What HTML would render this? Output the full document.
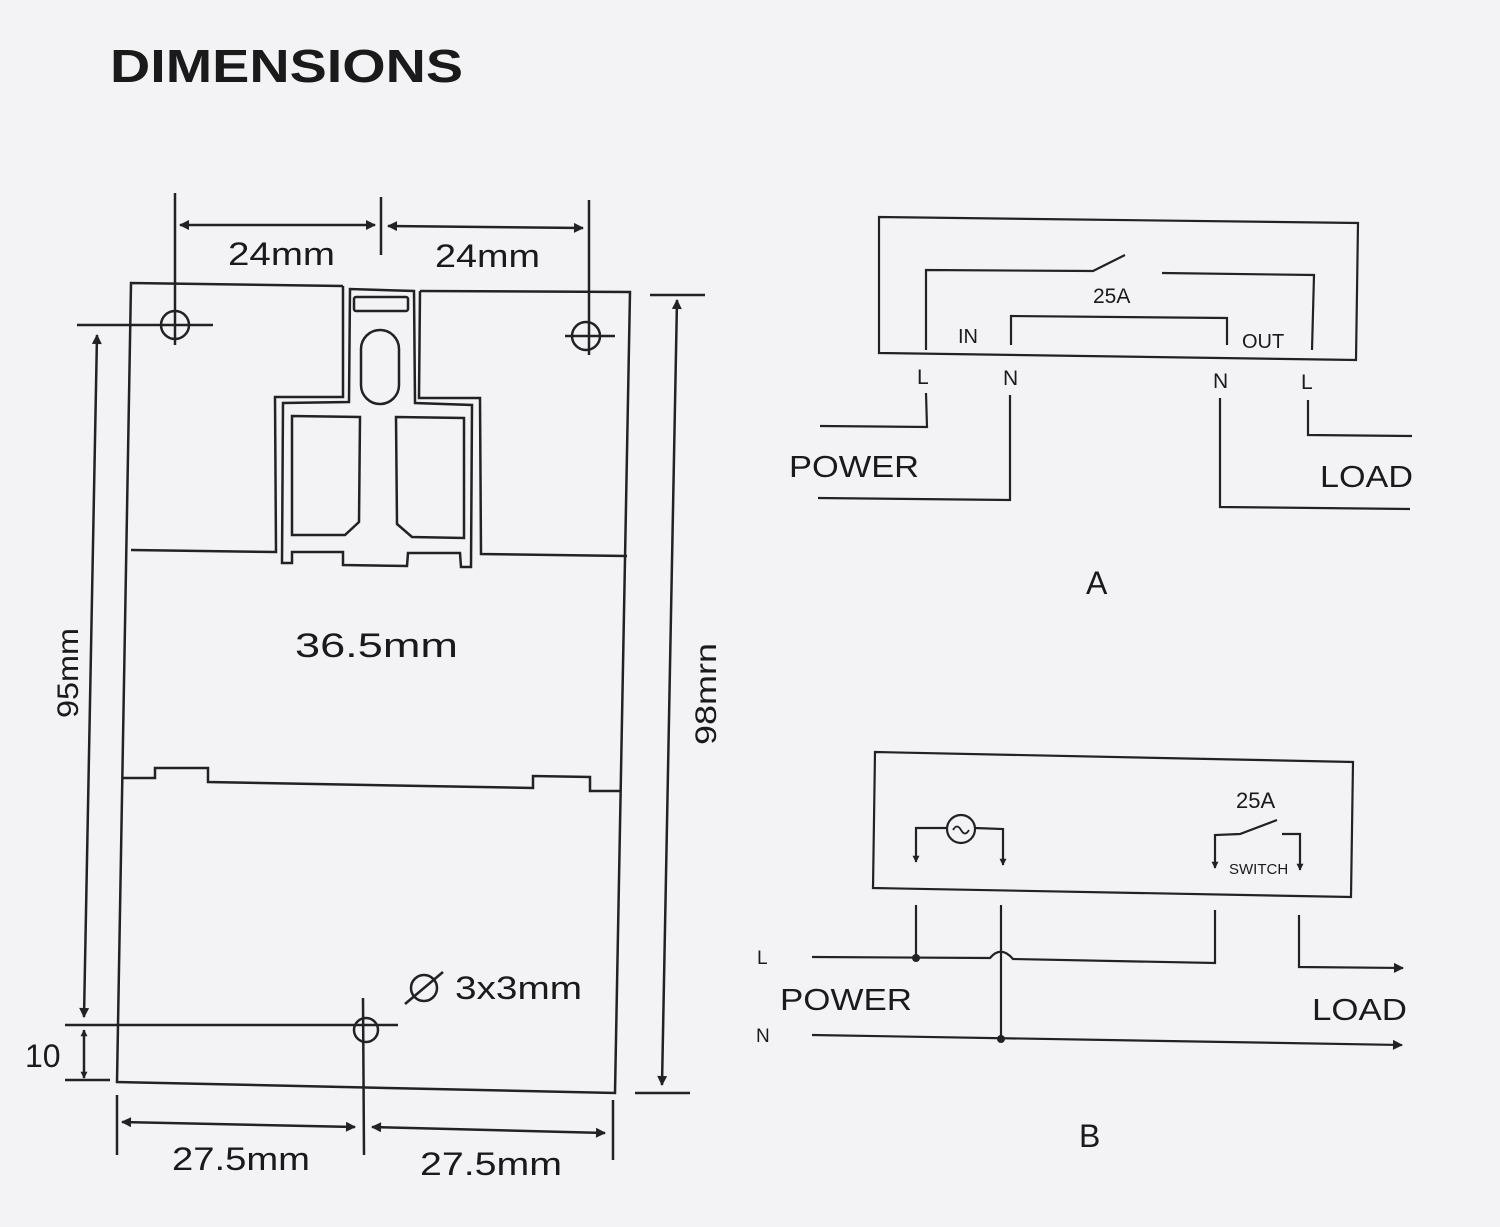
<!DOCTYPE html>
<html><head><meta charset="utf-8"><style>
html,body{margin:0;padding:0;background:#f3f2f5;}
svg{display:block}
text{font-family:"Liberation Sans",sans-serif;fill:#1a1a1a}
</style></head><body>
<svg width="1500" height="1227" viewBox="0 0 1500 1227" xmlns="http://www.w3.org/2000/svg">
<defs>
<marker id="ab" viewBox="0 0 10 10" refX="9" refY="5" markerWidth="18" markerHeight="10" orient="auto-start-reverse" markerUnits="userSpaceOnUse">
<path d="M0,0 L10,5 L0,10 z" fill="#222"/></marker>
<marker id="as" viewBox="0 0 10 10" refX="9" refY="5" markerWidth="10" markerHeight="7" orient="auto-start-reverse" markerUnits="userSpaceOnUse">
<path d="M0,0 L10,5 L0,10 z" fill="#222"/></marker>
</defs>
<rect width="1500" height="1227" fill="#f3f2f5"/>
<text x="110" y="82" font-size="46" font-weight="bold" textLength="353" lengthAdjust="spacingAndGlyphs">DIMENSIONS</text>

<g fill="none" stroke="#222" stroke-width="2.5">
<path d="M343,286 L131,283 L117,1082 L615,1093 L630,292 L420,291"/>
<path d="M343,286 L343,397 L275,397 L276,552 L131,550"/>
<path d="M350,289 L349,402 L283,403 L282,563 L292,563 L292,552 L343,552 L343,565 L407,566 L408,553 L460,553 L461,567 L471,567 L472,405 L415,403 L414,291 Z"/>
<path d="M420,291 L419,398 L480,398 L481,554 L627,556"/>
<rect x="354" y="297" width="54" height="14" rx="2"/>
<rect x="361" y="330" width="38" height="74" rx="19"/>
<path d="M292,416 L360,417 L359,522 L345,535 L292,535 Z"/>
<path d="M396,417 L464,418 L464,538 L412,537 L397,524 Z"/>
<path d="M122,778 L155,778 L155,768 L208,768 L208,782 L533,788 L533,776 L590,777 L590,791 L620,791"/>
<circle cx="175" cy="325" r="14"/>
<line x1="77" y1="325" x2="213" y2="325"/>
<line x1="175" y1="193" x2="175" y2="345"/>
<circle cx="586" cy="336" r="14"/>
<line x1="565" y1="336" x2="615" y2="336"/>
<line x1="589" y1="200" x2="589" y2="355"/>
<circle cx="366" cy="1030" r="12"/>
<line x1="65" y1="1025" x2="398" y2="1025"/>
<line x1="363" y1="998" x2="364" y2="1155"/>
<line x1="381" y1="197" x2="381" y2="255"/>
<line x1="180" y1="225" x2="375" y2="225" marker-start="url(#ab)" marker-end="url(#ab)"/>
<line x1="388" y1="226" x2="583" y2="228" marker-start="url(#ab)" marker-end="url(#ab)"/>
<line x1="650" y1="295" x2="705" y2="295"/>
<line x1="635" y1="1093" x2="690" y2="1093"/>
<line x1="677" y1="300" x2="662" y2="1085" marker-start="url(#ab)" marker-end="url(#ab)"/>
<line x1="97" y1="335" x2="84" y2="1017" marker-start="url(#ab)" marker-end="url(#ab)"/>
<line x1="84" y1="1030" x2="84" y2="1078" marker-start="url(#as)" marker-end="url(#as)"/>
<line x1="65" y1="1080" x2="110" y2="1080"/>
<line x1="117" y1="1095" x2="117" y2="1155"/>
<line x1="613" y1="1100" x2="613" y2="1160"/>
<line x1="122" y1="1122" x2="355" y2="1127" marker-start="url(#ab)" marker-end="url(#ab)"/>
<line x1="372" y1="1127" x2="605" y2="1133" marker-start="url(#ab)" marker-end="url(#ab)"/>
<circle cx="424" cy="988" r="13"/>
<line x1="405" y1="1004" x2="443" y2="972"/>
</g>
<text x="228" y="265" font-size="32" textLength="107" lengthAdjust="spacingAndGlyphs">24mm</text>
<text x="435" y="267" font-size="32" textLength="105" lengthAdjust="spacingAndGlyphs">24mm</text>
<text x="295" y="657" font-size="34" textLength="163" lengthAdjust="spacingAndGlyphs">36.5mm</text>
<text x="455" y="999" font-size="32" textLength="127" lengthAdjust="spacingAndGlyphs">3x3mm</text>
<text x="172" y="1170" font-size="32" textLength="138" lengthAdjust="spacingAndGlyphs">27.5mm</text>
<text x="420" y="1175" font-size="32" textLength="142" lengthAdjust="spacingAndGlyphs">27.5mm</text>
<text x="25" y="1067" font-size="32">10</text>
<text transform="translate(78,718) rotate(-90)" font-size="30" textLength="90" lengthAdjust="spacingAndGlyphs">95mm</text>
<text transform="translate(716,745) rotate(-90)" font-size="30" textLength="102" lengthAdjust="spacingAndGlyphs">98mrn</text>

<g fill="none" stroke="#222" stroke-width="2.2">
<path d="M879,217 L1358,223 L1356,360 L879,353 Z"/>
<path d="M926,350 L926,270 L1093,271 L1125,255"/>
<path d="M1162,273 L1314,275 L1312,350"/>
<path d="M1011,345 L1011,316 L1227,318 L1227,345"/>
<path d="M926,393 L927,427 L820,426"/>
<path d="M1010,395 L1010,500 L818,498"/>
<path d="M1220,398 L1220,507 L1410,509"/>
<path d="M1308,400 L1308,435 L1412,436"/>
</g>
<text x="1093" y="303" font-size="21">25A</text>
<text x="958" y="343" font-size="20">IN</text>
<text x="1242" y="348" font-size="20">OUT</text>
<text x="917" y="384" font-size="21">L</text>
<text x="1003" y="385" font-size="21">N</text>
<text x="1213" y="388" font-size="21">N</text>
<text x="1301" y="389" font-size="21">L</text>
<text x="789" y="477" font-size="31" textLength="130" lengthAdjust="spacingAndGlyphs">POWER</text>
<text x="1320" y="487" font-size="31" textLength="93" lengthAdjust="spacingAndGlyphs">LOAD</text>
<text x="1086" y="594" font-size="32">A</text>

<g fill="none" stroke="#222" stroke-width="2.2">
<path d="M875,752 L1353,762 L1351,897 L873,888 Z"/>
<circle cx="961" cy="829" r="14"/>
<path d="M953,830 q4,-7 8,0 q4,7 8,0" stroke-width="1.8"/>
<path d="M947,828 L916,828 L916,862" marker-end="url(#as)"/>
<path d="M975,828 L1003,829 L1003,865" marker-end="url(#as)"/>
<path d="M1277,820 L1240,834 L1215,835 L1215,868" marker-end="url(#as)"/>
<path d="M1282,834 L1300,834 L1300,870" marker-end="url(#as)"/>
<path d="M916,905 L916,958"/>
<path d="M812,957 L990,958 Q1001,945 1013,959 L1215,963 L1215,910"/>
<path d="M1001,905 L1001,1040"/>
<path d="M812,1035 L1402,1045" marker-end="url(#ab)"/>
<path d="M1299,915 L1299,967 L1403,968" marker-end="url(#ab)"/>
</g>
<circle cx="916" cy="958" r="4" fill="#222"/>
<circle cx="1001" cy="1039" r="4" fill="#222"/>
<text x="1236" y="808" font-size="22">25A</text>
<text x="1229" y="874" font-size="15">SWITCH</text>
<text x="757" y="964" font-size="19">L</text>
<text x="756" y="1042" font-size="19">N</text>
<text x="780" y="1010" font-size="31" textLength="132" lengthAdjust="spacingAndGlyphs">POWER</text>
<text x="1312" y="1020" font-size="31" textLength="95" lengthAdjust="spacingAndGlyphs">LOAD</text>
<text x="1079" y="1147" font-size="32">B</text>
</svg>
</body></html>
